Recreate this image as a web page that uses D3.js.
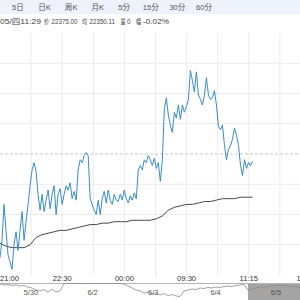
<!DOCTYPE html>
<html>
<head>
<meta charset="utf-8">
<script src="https://cdn.jsdelivr.net/npm/d3@7"></script>
<style>
  html, body { margin: 0; padding: 0; background: #fff; overflow: hidden; }
  svg { display: block; font-family: "Liberation Sans", "Noto Sans CJK SC", sans-serif; }
</style>
</head>
<body>
<div id="chart"></div>
<script>
// tabs and quote line
const tabs = ["5日", "日K", "周K", "月K", "5分", "15分", "30分", "60分"];
const quoteParts = ["05/四11:29", "价", "22375.00", "均", "22350.11", "量", "0", "幅", "-0.02%"];

// intraday price, one point every 2.9 minutes from 21:00
const prices = [
  22308, 22320, 22345, 22327, 22310, 22305, 22300, 22317, 22326, 22313,
  22327, 22340, 22320, 22333, 22345, 22358, 22369, 22374, 22368, 22352,
  22341, 22352, 22340, 22348, 22355, 22342, 22352, 22358, 22338, 22352,
  22356, 22345, 22352, 22358, 22355, 22360, 22349, 22354, 22348, 22369,
  22376, 22374, 22379, 22381, 22379, 22349, 22345, 22341, 22338, 22348,
  22338, 22349, 22354, 22346, 22355, 22348, 22345, 22352, 22348, 22347,
  22352, 22348, 22355, 22349, 22346, 22351, 22348, 22353, 22349, 22369,
  22372, 22369, 22376, 22374, 22379, 22376, 22372, 22377, 22370, 22374,
  22361, 22376, 22411, 22419, 22407, 22400, 22395, 22409, 22405, 22414,
  22404, 22414, 22409, 22413, 22418, 22438, 22431, 22423, 22437, 22421,
  22418, 22414, 22421, 22433, 22421, 22418, 22419, 22424, 22414, 22399,
  22397, 22400, 22386, 22376, 22383, 22386, 22390, 22398, 22393, 22386,
  22372, 22365, 22376, 22370, 22374, 22372, 22375
];
// average price, every third price point
const avgPrices = [
  22318, 22316, 22315, 22315, 22315, 22317, 22322, 22324, 22325, 22326,
  22327, 22327, 22328, 22329, 22330, 22331, 22331, 22332, 22332, 22333,
  22333, 22333, 22334, 22334, 22334, 22334, 22335, 22337, 22341, 22343,
  22344, 22345, 22345, 22346, 22347, 22347, 22348, 22349, 22349, 22349,
  22350, 22350, 22350
];
const preClose = 22380;
const minutesPerPoint = 2.9;

const timeLabels = ["21:00", "22:30", "00:00", "09:30", "11:15", "13:00"];
const timeTicks = [0, 90, 180, 270, 360, 450];

// five day overview strip
const navPrices = [
  22382, 22375, 22379, 22371, 22375, 22367, 22371, 22359, 22352, 22336,
  22329, 22340, 22321, 22344, 22321, 22329, 22386, 22386, 22387, 22386,
  22386, 22385, 22386, 22387, 22386, 22386, 22385, 22386, 22386, 22386,
  22386, 22382, 22367, 22352, 22336, 22329, 22313, 22321, 22306, 22313,
  22298, 22310, 22294, 22302, 22291, 22287, 22329, 22336, 22344, 22340,
  22352, 22348, 22356, 22352, 22359, 22356, 22363, 22367, 22363, 22371,
  22375, 22379, 22336, 22344, 22352, 22359, 22356, 22363, 22367, 22371,
  22375, 22371, 22367, 22363, 22359, 22356
];
const navDays = ["5/30", "6/2", "6/3", "6/4", "6/5"];
const navDayStarts = [0, 15.5, 30.8, 45.8, 62, 76];

const W = 300, H = 300;
const plot = { top: 33, bottom: 275, width: 311 };

const svg = d3.select("#chart").append("svg")
  .attr("width", W)
  .attr("height", H);

// tab bar
svg.append("rect")
  .attr("x", 0).attr("y", 0)
  .attr("width", W).attr("height", 14)
  .attr("fill", "#edf2fb");

const tabX = d3.scalePoint().domain(tabs).range([18, 204]);
svg.selectAll(".tab")
  .data(tabs)
  .enter()
  .append("text")
  .attr("class", "tab")
  .attr("x", d => tabX(d))
  .attr("y", 10)
  .attr("text-anchor", "middle")
  .style("font-size", "7.6px")
  .attr("fill", "#555")
  .text(d => d);

// quote line, each part squeezed into the width it has in the screenshot
const quoteX = [0, 44, 51.5, 82, 89.5, 120.5, 127, 136, 143];
const quoteW = [41, 5, 26, 5, 25.5, 5, 3.5, 5, 26];
svg.selectAll(".quote")
  .data(quoteParts)
  .enter()
  .append("text")
  .attr("class", "quote")
  .attr("x", (d, i) => quoteX[i])
  .attr("y", 24)
  .attr("textLength", (d, i) => quoteW[i])
  .attr("lengthAdjust", "spacingAndGlyphs")
  .style("font-size", "7.2px")
  .attr("fill", "#444")
  .text(d => d);

const x = d3.scaleLinear().domain([0, 450]).range([0, plot.width]);
const y = d3.scaleLinear().domain([preClose - 84, preClose + 84]).range([plot.bottom, plot.top]);

// grid
const grid = svg.append("g");
grid.selectAll(".vgrid")
  .data(d3.range(45, 450, 45))
  .enter()
  .append("line")
  .attr("x1", d => x(d)).attr("x2", d => x(d))
  .attr("y1", plot.top).attr("y2", plot.bottom)
  .attr("stroke", "#ececec");

grid.selectAll(".hgrid")
  .data(d3.range(1, 8).map(k => preClose - 84 + 21 * k))
  .enter()
  .append("line")
  .attr("x1", 0).attr("x2", W)
  .attr("y1", d => y(d)).attr("y2", d => y(d))
  .attr("stroke", d => d === preClose ? "#c9c9c9" : "#ececec")
  .attr("stroke-dasharray", d => d === preClose ? "3,2" : null);

// average line
const avgLine = d3.line()
  .x((d, i) => x(i * 3 * minutesPerPoint))
  .y(d => y(d));
svg.append("path")
  .datum(avgPrices)
  .attr("fill", "none")
  .attr("stroke", "#333")
  .attr("stroke-width", 0.9)
  .attr("d", avgLine);

// price line
const priceLine = d3.line()
  .x((d, i) => x(i * minutesPerPoint))
  .y(d => y(d));
svg.append("path")
  .datum(prices)
  .attr("fill", "none")
  .attr("stroke", "#3a8ccb")
  .attr("stroke-width", 1)
  .attr("d", priceLine);

// time labels
svg.selectAll(".tlabel")
  .data(timeLabels)
  .enter()
  .append("text")
  .attr("class", "tlabel")
  .attr("x", (d, i) => Math.min(Math.max(x(timeTicks[i]), 9.5), 306))
  .attr("y", 281)
  .attr("text-anchor", "middle")
  .style("font-size", "7.6px")
  .attr("fill", "#333")
  .text(d => d);

// overview strip
const nx = d3.scaleLinear().domain([0, 75]).range([0, 300]);
const ny = d3.scaleLinear().domain([22260, 22390]).range([300, 283]);

svg.append("rect")
  .attr("x", nx(navDayStarts[4]))
  .attr("y", 284)
  .attr("width", W - nx(navDayStarts[4]))
  .attr("height", 16)
  .attr("fill", "#a4a4a4");

svg.append("line")
  .attr("x1", 0).attr("x2", W)
  .attr("y1", 283.5).attr("y2", 283.5)
  .attr("stroke", "#b5b5b5");

svg.append("path")
  .datum(navPrices)
  .attr("fill", "none")
  .attr("stroke", "#8a8a8a")
  .attr("stroke-width", 0.8)
  .attr("d", d3.line().x((d, i) => nx(i)).y(d => ny(d)));

svg.selectAll(".dlabel")
  .data(navDays)
  .enter()
  .append("text")
  .attr("class", "dlabel")
  .attr("x", (d, i) => nx((navDayStarts[i] + navDayStarts[i + 1]) / 2))
  .attr("y", 295)
  .attr("text-anchor", "middle")
  .style("font-size", "7.4px")
  .attr("fill", "#555")
  .text(d => d);
</script>
</body>
</html>
